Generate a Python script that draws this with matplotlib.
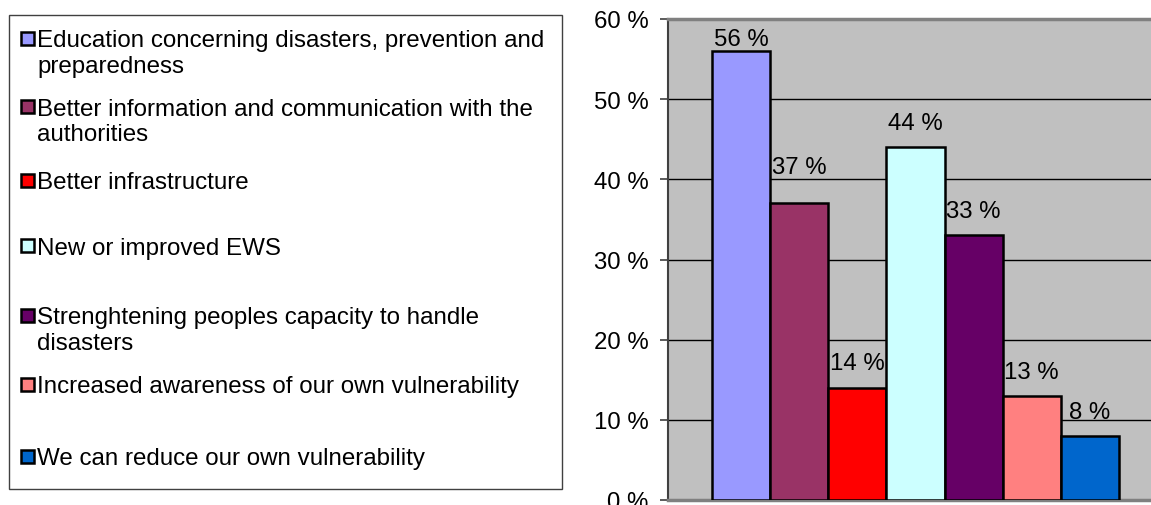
import matplotlib.pyplot as plt
from matplotlib.patches import Rectangle
from matplotlib.ticker import MultipleLocator, FuncFormatter

labels = [
    "Education concerning disasters, prevention and\npreparedness",
    "Better information and communication with the\nauthorities",
    "Better infrastructure",
    "New or improved EWS",
    "Strenghtening peoples capacity to handle\ndisasters",
    "Increased awareness of our own vulnerability",
    "We can reduce our own vulnerability",
]
values = [56, 37, 14, 44, 33, 13, 8]
colors = ["#9999FF", "#993366", "#FF0000", "#CCFFFF", "#660066", "#FF8080", "#0066CC"]

# label offset above each bar (pixels) and legend row centres (pixels from top)
label_gap = [12, 36, 25, 24, 24, 24, 24]
legend_rows = [39, 107, 181, 246, 316, 385, 457]
line_step = 25.5

W, H = 1151, 506
FS = 17.3
plt.rcParams['font.family'] = ['Liberation Sans', 'DejaVu Sans']

fig = plt.figure(figsize=(W / 100, H / 100), dpi=100)


def fx(px):
    return px / W


def fy(py):
    return 1 - py / H


ax = fig.add_axes([fx(668), fy(501), 1 - fx(668), (501 - 20) / H])
ax.set_facecolor("#C0C0C0")

x = list(range(len(values)))
bars = ax.bar(x, values, width=1.0, color=colors, edgecolor="black", linewidth=1.8, zorder=3)
ax.set_xlim(-1.257, 7.05)
ax.set_ylim(0, 60)
ax.yaxis.set_major_locator(MultipleLocator(10))
ax.yaxis.set_major_formatter(FuncFormatter(lambda v, p: "%d %%" % v))
ax.grid(axis="y", color="black", linewidth=1.0, zorder=1)
ax.set_xticks([])
ax.tick_params(axis="y", direction="out", length=6, width=1.2, color="#404040",
               labelsize=FS, pad=8)
for s in ["top", "bottom"]:
    ax.spines[s].set_color("#808080")
    ax.spines[s].set_linewidth(2.5)
ax.spines["left"].set_color("#404040")
ax.spines["left"].set_linewidth(1.5)
ax.spines["right"].set_visible(False)

for b, v, g in zip(bars, values, label_gap):
    ax.annotate("%d %%" % v, (b.get_x() + b.get_width() / 2, v),
                xytext=(0, g * 0.72), textcoords="offset points",
                ha="center", va="center", fontsize=FS, zorder=4)

# legend box drawn by hand so each row sits where it should
fig.patches.append(Rectangle((fx(9), fy(490)), fx(562) - fx(9), fy(16) - fy(490),
                             transform=fig.transFigure, facecolor="white",
                             edgecolor="#404040", linewidth=1.0))
for lab, c, row in zip(labels, colors, legend_rows):
    fig.patches.append(Rectangle((fx(21), fy(row + 6.5)), fx(13), 13 / H,
                                 transform=fig.transFigure, facecolor=c,
                                 edgecolor="black", linewidth=1.8))
    for i, line in enumerate(lab.split("\n")):
        fig.text(fx(37), fy(row + 8.5 + i * line_step), line,
                 ha="left", va="baseline", fontsize=17.4)

fig.savefig("out.png", dpi=100)
